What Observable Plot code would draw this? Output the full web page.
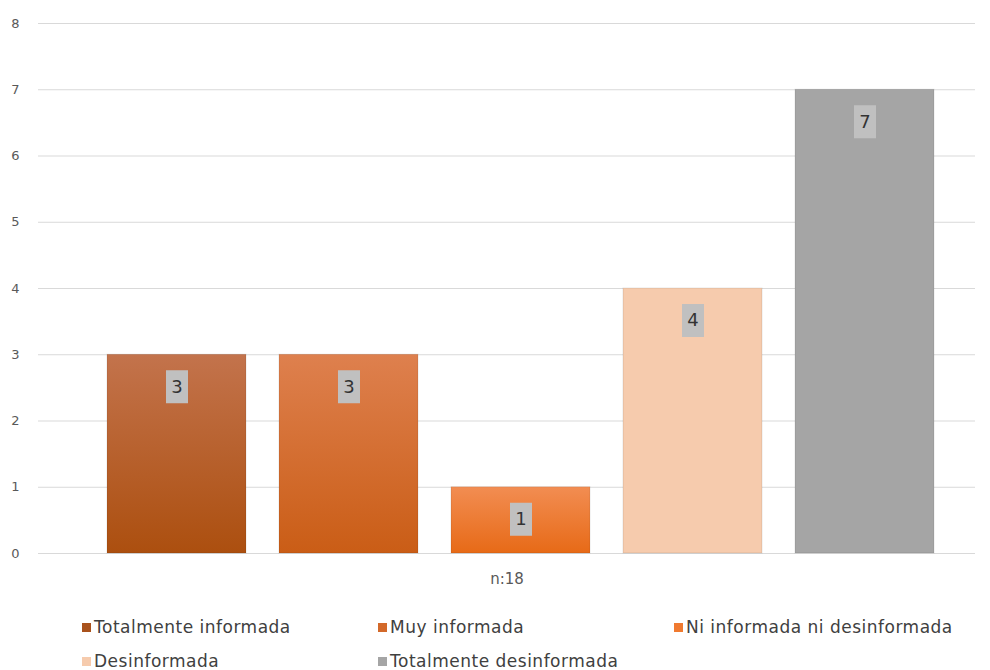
<!DOCTYPE html>
<html>
<head>
<meta charset="utf-8">
<script src="https://cdn.jsdelivr.net/npm/d3@7"></script>
<script src="https://cdn.jsdelivr.net/npm/@observablehq/plot@0.6"></script>
<style>
  html, body { margin: 0; padding: 0; background: #ffffff; }
  body { width: 990px; height: 670px; overflow: hidden; font-family: "DejaVu Sans", sans-serif; }
  #legend { position: relative; width: 990px; }
  .row { display: flex; height: 34px; align-items: center; padding-left: 82px; }
  .item { display: flex; align-items: center; width: 296px; font-size: 17px; letter-spacing: 0.5px; color: #404040; white-space: nowrap; }
  .sw { width: 9px; height: 9px; margin-right: 3px; flex: none; }
</style>
</head>
<body>
<div id="chart"></div>
<div id="legend"></div>
<script>
// ---- data ----
const categories = [
  "Totalmente informada",
  "Muy informada",
  "Ni informada ni desinformada",
  "Desinformada",
  "Totalmente desinformada"
];
const values = [3, 3, 1, 4, 7];
const yTicks = [0, 1, 2, 3, 4, 5, 6, 7, 8];
const xLabel = ["n:18"];
const legendRows = [[0, 1, 2], [3, 4]];

// ---- styles ----
const gradients = [
  ["#c3734c", "#ac4f0f"],
  ["#de804e", "#ca5d16"],
  ["#f28d52", "#e76a17"],
  ["#f6cbad", "#f6cbad"],
  ["#a5a5a5", "#a5a5a5"]
];
const legendColors = ["#a9521c", "#d3692a", "#f07a30", "#f6cbad", "#a5a5a5"];
const fills = gradients.map((g, i) => `url(#grad${i})`);

const data = categories.map((c, i) => ({cat: c, value: values[i]}));

const labelBox = {
  draw(context) { context.rect(-11, -16.5, 22, 33); }
};

const chart = Plot.plot({
  width: 990,
  height: 600,
  marginTop: 23,
  marginBottom: 47,
  marginLeft: 38,
  marginRight: 15,
  style: {fontFamily: "DejaVu Sans, sans-serif", background: "#ffffff"},
  x: {domain: categories, padding: 0.19, insetLeft: 36, insetRight: 8, axis: null},
  y: {domain: [0, 8], ticks: yTicks, label: null},
  color: {domain: categories, range: fills},
  marks: [
    Plot.ruleY(yTicks, {stroke: "#d9d9d9", strokeWidth: 1.2}),
    Plot.axisY({ticks: yTicks, tickSize: 0, tickPadding: 19, label: null, fontSize: 13, fill: "#595959", tickFormat: d3.format("d")}),
    Plot.barY(data, {x: "cat", y: "value", fill: "cat", stroke: "#00000018", strokeWidth: 1}),
    Plot.dot(data, {x: "cat", y: "value", dy: 32, symbol: labelBox, fill: "#c0c0c0", stroke: "none"}),
    Plot.text(data, {x: "cat", y: "value", dy: 32, text: d => String(d.value), fontSize: 18, fill: "#333333"}),
    Plot.text(xLabel, {frameAnchor: "bottom", dy: 30, text: d => d, fontSize: 15, fill: "#595959"})
  ]
});

// gradient definitions
const svg = d3.select(chart);
const defs = svg.insert("defs", ":first-child");
gradients.forEach((g, i) => {
  const lg = defs.append("linearGradient").attr("id", `grad${i}`).attr("x1", 0).attr("y1", 0).attr("x2", 0).attr("y2", 1);
  lg.append("stop").attr("offset", "0%").attr("stop-color", g[0]);
  lg.append("stop").attr("offset", "100%").attr("stop-color", g[1]);
});

document.getElementById("chart").appendChild(chart);

// legend
const legend = document.getElementById("legend");
legend.style.paddingTop = "10px";
legendRows.forEach(row => {
  const r = document.createElement("div");
  r.className = "row";
  row.forEach(i => {
    const it = document.createElement("div");
    it.className = "item";
    const sw = document.createElement("span");
    sw.className = "sw";
    sw.style.background = legendColors[i];
    const tx = document.createElement("span");
    tx.textContent = categories[i];
    it.appendChild(sw);
    it.appendChild(tx);
    r.appendChild(it);
  });
  legend.appendChild(r);
});
</script>
</body>
</html>
